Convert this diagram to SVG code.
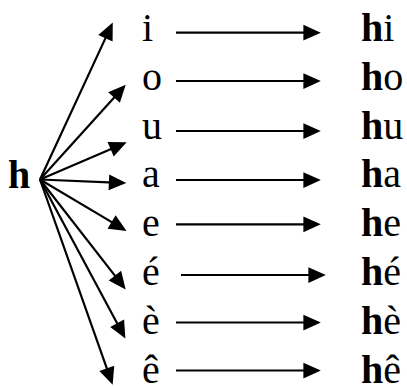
<svg xmlns="http://www.w3.org/2000/svg" width="407" height="386" viewBox="0 0 407 386">
<style>
.t { font-family: 'Liberation Serif', 'Times New Roman', Times, serif; font-size: 40px; fill: #000; }
.b { font-weight: bold; }
.c line { stroke: #000; stroke-width: 2.2; fill: none; marker-end: url(#ah); }
</style>
<defs>
<marker id="ah" markerUnits="userSpaceOnUse" markerWidth="18" markerHeight="18" viewBox="0 -8 16 16" refX="5" refY="0" orient="auto" overflow="visible">
<path d="M0,-7 L15.5,0 L0,7 z" fill="#000"/>
</marker>
</defs>
<rect width="407" height="386" fill="#fff"/>
<g font-family="Liberation Serif, serif" font-size="40">
<g id="src"><text class="t b" x="8" y="187.5">h</text></g>
<g id="v-i"><text class="t" x="142" y="41">i</text></g>
<g id="v-o"><text class="t" x="142" y="89.8">o</text></g>
<g id="v-u"><text class="t" x="142" y="138.6">u</text></g>
<g id="v-a"><text class="t" x="142" y="187.4">a</text></g>
<g id="v-e"><text class="t" x="142" y="236.2">e</text></g>
<g id="v-e-acute"><text class="t" x="142" y="285">é</text></g>
<g id="v-e-grave"><text class="t" x="142" y="333.8">è</text></g>
<g id="v-e-circ"><text class="t" x="142" y="382.6">ê</text></g>
<g id="r-hi"><text class="t" x="361" y="41"><tspan class="b">h</tspan>i</text></g>
<g id="r-ho"><text class="t" x="361" y="89.8"><tspan class="b">h</tspan>o</text></g>
<g id="r-hu"><text class="t" x="361" y="138.6"><tspan class="b">h</tspan>u</text></g>
<g id="r-ha"><text class="t" x="361" y="187.4"><tspan class="b">h</tspan>a</text></g>
<g id="r-he"><text class="t" x="361" y="236.2"><tspan class="b">h</tspan>e</text></g>
<g id="r-he-acute"><text class="t" x="361" y="285"><tspan class="b">h</tspan>é</text></g>
<g id="r-he-grave"><text class="t" x="361" y="333.8"><tspan class="b">h</tspan>è</text></g>
<g id="r-he-circ"><text class="t" x="361" y="382.6"><tspan class="b">h</tspan>ê</text></g>
</g>
<g id="connectors" class="c">
<line x1="40" y1="179.5" x2="107.8" y2="33.1"/>
<line x1="40" y1="179.5" x2="117.8" y2="93.4"/>
<line x1="40" y1="179.5" x2="115.8" y2="147"/>
<line x1="40" y1="179.5" x2="114.5" y2="182.6"/>
<line x1="40" y1="179.5" x2="116.4" y2="224.9"/>
<line x1="40" y1="179.5" x2="118.4" y2="280.1"/>
<line x1="40" y1="179.5" x2="119.8" y2="328.2"/>
<line x1="40" y1="179.5" x2="108.7" y2="373.6"/>
<line x1="176" y1="32.7" x2="309" y2="32.7"/>
<line x1="176" y1="81" x2="309" y2="81"/>
<line x1="176" y1="131" x2="309" y2="131"/>
<line x1="176" y1="180" x2="309" y2="180"/>
<line x1="176" y1="224.3" x2="309" y2="224.3"/>
<line x1="181" y1="275" x2="314" y2="275"/>
<line x1="176" y1="322.5" x2="309" y2="322.5"/>
<line x1="176" y1="370.5" x2="309" y2="370.5"/>
</g>
</svg>
